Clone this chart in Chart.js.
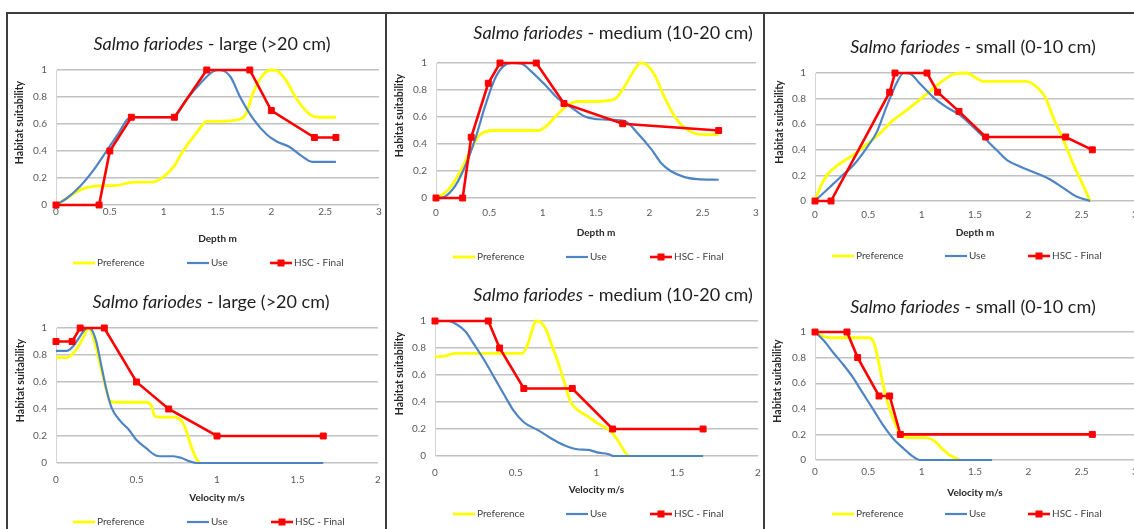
<!DOCTYPE html>
<html>
<head>
<meta charset="utf-8">
<title>Salmo fariodes – habitat suitability curves</title>
<script src="https://cdn.jsdelivr.net/npm/chart.js@4.4.1/dist/chart.umd.min.js"></script>
<style>
  html, body { margin: 0; padding: 0; background: #ffffff; overflow: hidden; }
  #sheet { position: relative; width: 1134px; height: 529px; overflow: hidden; background: #ffffff; }
  #sheet canvas { position: absolute; left: 0; top: 0; }
  .rule { position: absolute; background: #3d3d3d; }
</style>
</head>
<body>
<div id="sheet">
  <div class="rule" style="left:6px;top:12px;width:1128px;height:2px"></div>
  <div class="rule" style="left:6px;top:12px;width:2px;height:517px"></div>
  <div class="rule" style="left:385px;top:12px;width:2px;height:517px"></div>
  <div class="rule" style="left:763px;top:12px;width:2px;height:517px"></div>
</div>
<script>
// ---- series values: [x, habitat suitability] ----
const depthLargePreference = [[0,0],[0.1,0.05],[0.22,0.11],[0.36,0.14],[0.56,0.145],[0.72,0.17],[0.9,0.17],[1.0,0.21],[1.09,0.28],[1.18,0.4],[1.31,0.54],[1.4,0.62],[1.52,0.62],[1.68,0.63],[1.76,0.67],[1.83,0.83],[1.91,0.95],[1.99,1.0],[2.05,0.995],[2.13,0.93],[2.24,0.78],[2.36,0.67],[2.44,0.65],[2.6,0.65]];
const depthLargeUse = [[0,0],[0.1,0.05],[0.22,0.135],[0.35,0.26],[0.47,0.4],[0.58,0.53],[0.67,0.64],[0.72,0.65],[1.09,0.65],[1.21,0.78],[1.34,0.9],[1.46,0.99],[1.52,1.0],[1.62,0.95],[1.71,0.8],[1.83,0.64],[1.96,0.52],[2.05,0.47],[2.17,0.43],[2.27,0.37],[2.38,0.32],[2.6,0.32]];
const depthLargeHsc = [[0,0],[0.4,0],[0.5,0.4],[0.7,0.65],[1.1,0.65],[1.4,1],[1.8,1],[2.0,0.7],[2.4,0.5],[2.6,0.5]];

const depthMediumPreference = [[0,0],[0.115,0.06],[0.22,0.185],[0.33,0.36],[0.4,0.46],[0.46,0.49],[0.55,0.5],[0.96,0.5],[1.03,0.53],[1.14,0.62],[1.24,0.69],[1.33,0.715],[1.49,0.715],[1.67,0.73],[1.77,0.83],[1.86,0.95],[1.92,1.0],[1.97,0.99],[2.05,0.91],[2.14,0.75],[2.24,0.6],[2.33,0.52],[2.42,0.48],[2.52,0.47],[2.65,0.47]];
const depthMediumUse = [[0,0],[0.08,0.01],[0.18,0.09],[0.27,0.23],[0.365,0.43],[0.46,0.68],[0.55,0.88],[0.63,0.975],[0.71,1.0],[0.8,0.995],[0.89,0.94],[1.02,0.84],[1.14,0.74],[1.27,0.67],[1.39,0.605],[1.49,0.585],[1.64,0.58],[1.77,0.57],[1.89,0.48],[2.02,0.36],[2.11,0.26],[2.2,0.2],[2.33,0.155],[2.45,0.14],[2.65,0.135]];
const depthMediumHsc = [[0,0],[0.25,0],[0.33,0.45],[0.49,0.85],[0.6,1],[0.94,1],[1.2,0.7],[1.75,0.55],[2.65,0.5]];

const depthSmallPreference = [[0,0],[0.05,0.11],[0.11,0.2],[0.23,0.29],[0.36,0.36],[0.48,0.44],[0.61,0.53],[0.73,0.63],[0.86,0.71],[0.98,0.79],[1.11,0.88],[1.2,0.94],[1.3,0.99],[1.42,1.0],[1.52,0.955],[1.58,0.935],[1.98,0.935],[2.08,0.89],[2.16,0.81],[2.23,0.66],[2.33,0.475],[2.42,0.29],[2.52,0.11],[2.58,0]];
const depthSmallUse = [[0,0],[0.11,0.086],[0.23,0.18],[0.36,0.28],[0.48,0.41],[0.58,0.54],[0.67,0.735],[0.77,0.93],[0.83,1.0],[0.89,0.995],[0.98,0.92],[1.11,0.81],[1.23,0.735],[1.36,0.67],[1.48,0.58],[1.58,0.5],[1.7,0.4],[1.8,0.32],[1.92,0.27],[2.08,0.215],[2.2,0.17],[2.33,0.1],[2.45,0.035],[2.58,0]];
const depthSmallHsc = [[0,0],[0.15,0],[0.7,0.85],[0.75,1],[1.05,1],[1.15,0.85],[1.35,0.7],[1.6,0.5],[2.35,0.5],[2.6,0.4]];

const velocityLargePreference = [[0,0.78],[0.066,0.78],[0.12,0.83],[0.17,0.93],[0.2,0.995],[0.22,0.975],[0.26,0.8],[0.3,0.6],[0.335,0.46],[0.37,0.45],[0.56,0.45],[0.59,0.43],[0.615,0.345],[0.65,0.34],[0.73,0.34],[0.78,0.31],[0.81,0.235],[0.84,0.12],[0.875,0.025],[0.895,0]];
const velocityLargeUse = [[0,0.83],[0.066,0.83],[0.11,0.87],[0.15,0.94],[0.18,0.99],[0.2,1.0],[0.22,0.99],[0.25,0.9],[0.28,0.73],[0.31,0.56],[0.345,0.41],[0.4,0.31],[0.45,0.25],[0.5,0.17],[0.56,0.11],[0.625,0.054],[0.67,0.05],[0.73,0.05],[0.78,0.037],[0.83,0.012],[0.875,0],[1.66,0]];
const velocityLargeHsc = [[0,0.9],[0.1,0.9],[0.15,1],[0.3,1],[0.5,0.6],[0.7,0.4],[1.0,0.2],[1.66,0.2]];

const velocityMediumPreference = [[0,0.735],[0.06,0.74],[0.12,0.76],[0.18,0.76],[0.54,0.76],[0.575,0.83],[0.605,0.945],[0.625,1.0],[0.65,0.995],[0.69,0.93],[0.72,0.83],[0.76,0.7],[0.8,0.55],[0.84,0.4],[0.885,0.34],[0.95,0.29],[1.01,0.24],[1.07,0.2],[1.11,0.155],[1.15,0.08],[1.19,0.007],[1.205,0]];
const velocityMediumUse = [[0,1],[0.08,1],[0.14,0.97],[0.19,0.92],[0.24,0.83],[0.31,0.7],[0.37,0.575],[0.43,0.45],[0.49,0.33],[0.55,0.25],[0.64,0.19],[0.72,0.13],[0.8,0.08],[0.88,0.05],[0.95,0.045],[1.01,0.025],[1.07,0.015],[1.11,0],[1.66,0]];
const velocityMediumHsc = [[0,1],[0.33,1],[0.4,0.8],[0.55,0.5],[0.85,0.5],[1.1,0.2],[1.66,0.2]];

const velocitySmallPreference = [[0,1],[0.08,0.965],[0.16,0.955],[0.5,0.955],[0.55,0.92],[0.59,0.79],[0.64,0.585],[0.67,0.48],[0.72,0.35],[0.77,0.25],[0.81,0.195],[0.86,0.175],[1.02,0.175],[1.11,0.155],[1.19,0.09],[1.27,0.035],[1.36,0]];
const velocitySmallUse = [[0,1],[0.08,0.935],[0.17,0.84],[0.27,0.74],[0.36,0.64],[0.45,0.52],[0.55,0.39],[0.64,0.27],[0.73,0.17],[0.83,0.09],[0.92,0.026],[0.98,0],[1.66,0]];
const velocitySmallHsc = [[0,1],[0.3,1],[0.4,0.8],[0.6,0.5],[0.7,0.5],[0.8,0.2],[2.6,0.2]];

// ---- tick labels and names ----
const suitabilityTicks = [0, 0.2, 0.4, 0.6, 0.8, 1];
const depthTicks = [0, 0.5, 1, 1.5, 2, 2.5, 3];
const velocityTicksShort = [0, 0.5, 1, 1.5, 2];
const velocityTicksLong = [0, 0.5, 1, 1.5, 2, 2.5, 3];
const seriesNames = ['Preference', 'Use', 'HSC - Final'];
const speciesName = 'Salmo fariodes';
const sizeClasses = [' - large (>20 cm)', ' - medium (10-20 cm)', ' - small (0-10 cm)'];
const axisNames = { depth: 'Depth m', velocity: 'Velocity m/s', suitability: 'Habitat suitability' };

// ---- page geometry ----
const CANVAS_W = 1150, CANVAS_H = 529;
const Y_AXIS_W = 30, X_AXIS_H = 24;
const FONT = 'Lato, "Noto Sans", "DejaVu Sans", sans-serif';

const seriesStyles = [
  { color: '#ffff00', width: 2.8, marker: false, smooth: true,  order: 2 },
  { color: '#4f84c4', width: 2.2, marker: false, smooth: true,  order: 1 },
  { color: '#ff0000', width: 2.6, marker: true,  smooth: false, order: 0 }
];

// each panel: series, axis, and where its plot area sits on the page
const panels = [
  { series: [depthLargePreference, depthLargeUse, depthLargeHsc], size: 0, xName: axisNames.depth, xTicks: depthTicks,
    area: [56, 70, 379, 205], titleX: 212, titleY: 44, yTitleX: 20, xTitleDy: 34, tickPad: 2, legendY: 263, legendX: [73, 187, 270] },
  { series: [depthMediumPreference, depthMediumUse, depthMediumHsc], size: 1, xName: axisNames.depth, xTicks: depthTicks,
    area: [436, 63, 756, 198], titleX: 613, titleY: 33, yTitleX: 400, xTitleDy: 35, tickPad: 10, legendY: 257, legendX: [453, 566, 650] },
  { series: [depthSmallPreference, depthSmallUse, depthSmallHsc], size: 2, xName: axisNames.depth, xTicks: depthTicks,
    area: [815, 73, 1135, 201], titleX: 973, titleY: 47, yTitleX: 780, xTitleDy: 32, tickPad: 9, legendY: 256, legendX: [832, 945, 1028] },
  { series: [velocityLargePreference, velocityLargeUse, velocityLargeHsc], size: 0, xName: axisNames.velocity, xTicks: velocityTicksShort,
    area: [56, 328, 378, 463], titleX: 211, titleY: 302, yTitleX: 21, xTitleDy: 35, tickPad: 12, legendY: 522, legendX: [73, 187, 271] },
  { series: [velocityMediumPreference, velocityMediumUse, velocityMediumHsc], size: 1, xName: axisNames.velocity, xTicks: velocityTicksShort,
    area: [435, 321, 758, 456], titleX: 613, titleY: 295, yTitleX: 400, xTitleDy: 34, tickPad: 12, legendY: 514, legendX: [453, 566, 650] },
  { series: [velocitySmallPreference, velocitySmallUse, velocitySmallHsc], size: 2, xName: axisNames.velocity, xTicks: velocityTicksLong,
    area: [815, 332, 1135, 460], titleX: 973, titleY: 307, yTitleX: 778, xTitleDy: 33, tickPad: 7, legendY: 514, legendX: [832, 945, 1028] }
];

// titles, axis titles and legend of one panel
const panelDecor = {
  id: 'panelDecor',
  afterDraw(chart, _args, o) {
    const { ctx, chartArea: a } = chart;
    ctx.save();
    ctx.textBaseline = 'middle';

    // title: italic species name followed by the size class
    const italic = `italic ${o.titleSize}px ${FONT}`;
    const upright = `${o.titleSize}px ${FONT}`;
    ctx.font = italic; const w1 = ctx.measureText(speciesName).width;
    ctx.font = upright; const w2 = ctx.measureText(o.sizeText).width;
    const x0 = o.titleX - (w1 + w2) / 2;
    ctx.fillStyle = '#1e1e1e';
    ctx.textAlign = 'left';
    ctx.font = italic; ctx.fillText(speciesName, x0, o.titleY);
    ctx.font = upright; ctx.fillText(o.sizeText, x0 + w1, o.titleY);

    // vertical axis title
    ctx.save();
    ctx.translate(o.yTitleX, (a.top + a.bottom) / 2 - 15);
    ctx.rotate(-Math.PI / 2);
    ctx.textAlign = 'center';
    ctx.fillStyle = '#262626';
    ctx.font = `bold 10.5px ${FONT}`;
    ctx.fillText(axisNames.suitability, 0, 0);
    ctx.restore();

    // horizontal axis title
    ctx.textAlign = 'center';
    ctx.fillStyle = '#262626';
    ctx.font = `bold 10px ${FONT}`;
    ctx.fillText(o.xName, (a.left + a.right) / 2, a.bottom + o.xTitleDy);

    // legend
    chart.data.datasets.forEach((ds, i) => {
      const lx = o.legendX[i], ly = o.legendY;
      ctx.strokeStyle = ds.borderColor;
      ctx.lineWidth = ds.borderWidth;
      ctx.beginPath(); ctx.moveTo(lx, ly); ctx.lineTo(lx + 22, ly); ctx.stroke();
      if (ds.pointRadius > 0) {
        ctx.fillStyle = ds.pointBackgroundColor;
        ctx.fillRect(lx + 11 - 3.5, ly - 3.5, 7, 7);
      }
      ctx.fillStyle = '#404040';
      ctx.textAlign = 'left';
      ctx.font = `10px ${FONT}`;
      ctx.fillText(ds.label, lx + 24, ly);
    });
    ctx.restore();
  }
};

function buildPanel(p) {
  const canvas = document.createElement('canvas');
  canvas.width = CANVAS_W; canvas.height = CANVAS_H;
  canvas.style.width = CANVAS_W + 'px'; canvas.style.height = CANVAS_H + 'px';
  document.getElementById('sheet').appendChild(canvas);

  const [left, top, right, bottom] = p.area;
  const xMax = p.xTicks[p.xTicks.length - 1];

  const datasets = p.series.map((pts, i) => {
    const s = seriesStyles[i];
    return {
      label: seriesNames[i],
      data: pts.map(([x, y]) => ({ x, y })),
      borderColor: s.color,
      backgroundColor: s.color,
      borderWidth: s.width,
      pointRadius: s.marker ? 4.2 : 0,
      pointHoverRadius: s.marker ? 4.2 : 0,
      pointStyle: 'rect',
      pointBackgroundColor: s.color,
      pointBorderColor: s.color,
      pointBorderWidth: 1,
      cubicInterpolationMode: s.smooth ? 'monotone' : 'default',
      tension: 0,
      fill: false,
      clip: false,
      order: s.order
    };
  });

  new Chart(canvas, {
    type: 'line',
    data: { datasets },
    plugins: [panelDecor],
    options: {
      responsive: false,
      maintainAspectRatio: false,
      animation: false,
      devicePixelRatio: 1,
      layout: {
        padding: {
          left: left - Y_AXIS_W,
          top: top,
          right: CANVAS_W - right,
          bottom: CANVAS_H - bottom - X_AXIS_H
        }
      },
      plugins: {
        legend: { display: false },
        title: { display: false },
        tooltip: { enabled: false },
        panelDecor: {
          sizeText: sizeClasses[p.size], titleSize: 18,
          titleX: p.titleX, titleY: p.titleY, yTitleX: p.yTitleX,
          xName: p.xName, xTitleDy: p.xTitleDy,
          legendX: p.legendX, legendY: p.legendY
        }
      },
      scales: {
        x: {
          type: 'linear',
          min: 0, max: xMax,
          afterBuildTicks: (scale) => { scale.ticks = p.xTicks.map(value => ({ value })); },
          afterFit: (scale) => { scale.height = X_AXIS_H; },
          grid: { display: false, drawTicks: false },
          border: { display: false },
          ticks: {
            autoSkip: false, maxRotation: 0, padding: p.tickPad - 1,
            color: '#595959', font: { family: FONT, size: 10 },
            callback: (v) => String(v)
          }
        },
        y: {
          type: 'linear',
          min: 0, max: 1,
          afterBuildTicks: (scale) => { scale.ticks = suitabilityTicks.map(value => ({ value })); },
          afterFit: (scale) => { scale.width = Y_AXIS_W; },
          grid: { color: '#c2c2c2', lineWidth: 1.4, drawTicks: false },
          border: { display: true, color: '#d4d4d4', width: 1 },
          ticks: {
            padding: 9,
            color: '#595959', font: { family: FONT, size: 10 },
            callback: (v) => String(v)
          }
        }
      }
    }
  });
}

function buildAll() { panels.forEach(buildPanel); }

if (document.fonts && document.fonts.load) {
  Promise.all([
    document.fonts.load(`9px ${FONT}`),
    document.fonts.load(`bold 9px ${FONT}`),
    document.fonts.load(`italic 18px ${FONT}`),
    document.fonts.load(`18px ${FONT}`)
  ]).then(buildAll, buildAll);
} else {
  buildAll();
}
</script>
</body>
</html>
